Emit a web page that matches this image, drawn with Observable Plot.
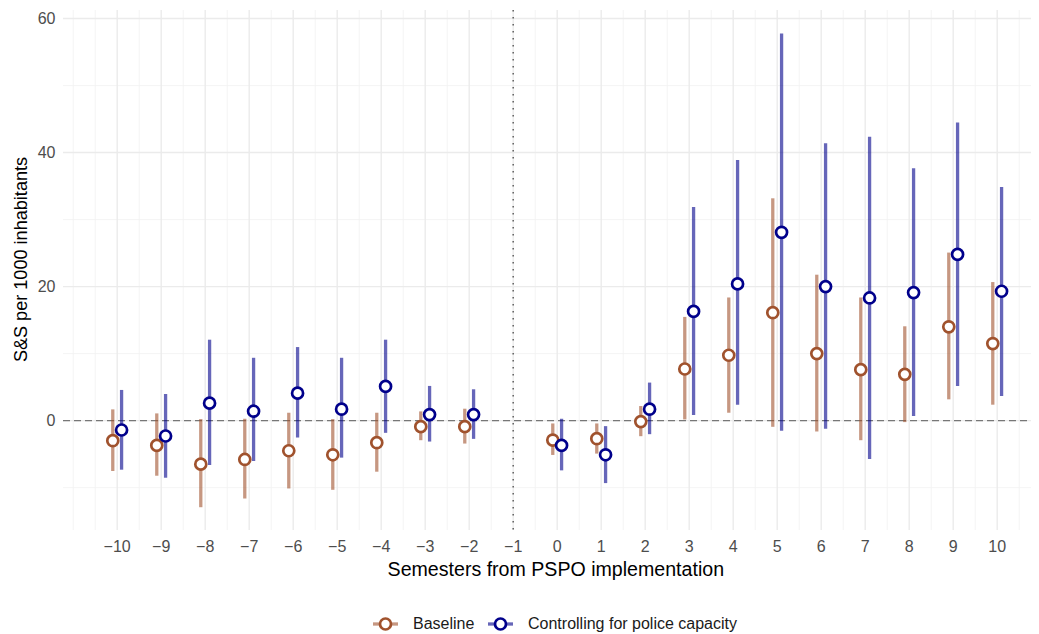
<!DOCTYPE html>
<html><head><meta charset="utf-8">
<script src="https://cdn.jsdelivr.net/npm/d3@7"></script>
<script src="https://cdn.jsdelivr.net/npm/@observablehq/plot@0.6"></script>
<style>
body{margin:0;background:#fff;font-family:"Liberation Sans",Arial,sans-serif;}
#chart svg{display:block;}
#legend{height:34px;position:relative;}
.item{position:absolute;top:14px;display:flex;align-items:center;height:20px;font-size:16px;color:#1a1a1a;}
.item svg{margin-right:15px;}
</style></head><body><div id="chart"></div><div id="legend"></div>
<script>
const seriesNames = ["Baseline", "Controlling for police capacity"];
const seriesColors = ["#A0522D", "#00008B"];
const semesters = [-10,-9,-8,-7,-6,-5,-4,-3,-2,0,1,2,3,4,5,6,7,8,9,10];
const xTicks = [-10,-9,-8,-7,-6,-5,-4,-3,-2,-1,0,1,2,3,4,5,6,7,8,9,10];
const yTicks = [0,20,40,60];
const baseEst = [-3.0,-3.7,-6.5,-5.8,-4.5,-5.1,-3.3,-0.9,-0.9,-2.9,-2.7,-0.15,7.7,9.75,16.1,10.0,7.6,6.9,14.0,11.5];
const baseLo  = [-7.6,-8.3,-13.0,-11.7,-10.2,-10.4,-7.7,-3.0,-3.5,-5.2,-5.0,-2.4,0.1,1.1,-1.0,-1.7,-3.0,-0.3,3.1,2.3];
const baseHi  = [1.6,1.0,0.15,0.2,1.1,0.15,1.1,1.3,1.7,-0.5,-0.5,2.1,15.4,18.3,33.1,21.7,18.3,14.0,25.0,20.6];
const ctrlEst = [-1.4,-2.3,2.6,1.4,4.1,1.7,5.1,0.9,0.9,-3.7,-5.1,1.7,16.3,20.4,28.1,20.0,18.3,19.1,24.8,19.3];
const ctrlLo  = [-7.4,-8.6,-6.7,-6.1,-2.6,-5.6,-1.9,-3.2,-2.8,-7.5,-9.4,-2.1,0.75,2.3,-1.6,-1.3,-5.8,0.6,5.1,3.6];
const ctrlHi  = [4.5,3.9,12.0,9.3,10.9,9.3,12.0,5.1,4.6,0.2,-0.9,5.6,31.8,38.8,57.7,41.3,42.3,37.6,44.4,34.8];
const eventLine = -1;

const base = semesters.map((s,i)=>({series:seriesNames[0], x:s, est:baseEst[i], lo:baseLo[i], hi:baseHi[i]}));
const ctrl = semesters.map((s,i)=>({series:seriesNames[1], x:s, est:ctrlEst[i], lo:ctrlLo[i], hi:ctrlHi[i]}));

const xMajor = xTicks;
const xMinor = d3.range(-11, 10.75, 0.5).filter(v => !xTicks.includes(v));
const yMajor = yTicks;
const yMinor = [-10,10,30,50];

const dodge = 4.4;
const plot = Plot.plot({
  width: 1039, height: 600,
  marginLeft: 63, marginRight: 8, marginTop: 10, marginBottom: 70,
  style: {fontFamily: '"Liberation Sans", Arial, sans-serif', background: "#fff"},
  x: {domain: [-11.22, 10.78]},
  y: {domain: [-16.4, 61.2]},
  color: {domain: seriesNames, range: seriesColors},
  marks: [
    Plot.ruleX(xMinor, {stroke: "#f1f1f1", strokeWidth: 0.8}),
    Plot.ruleY(yMinor, {stroke: "#f1f1f1", strokeWidth: 0.8}),
    Plot.ruleX(xMajor, {stroke: "#ebebeb", strokeWidth: 1.4}),
    Plot.ruleY(yMajor, {stroke: "#ebebeb", strokeWidth: 1.4}),
    Plot.ruleY([0], {stroke: "#777", strokeWidth: 1.2, strokeDasharray: "7,4"}),
    Plot.ruleX([eventLine], {stroke: "#555", strokeWidth: 1.4, strokeDasharray: "1.5,5.5"}),
    Plot.ruleX(base, {x: "x", y1: "lo", y2: "hi", stroke: "series", strokeOpacity: 0.6, strokeWidth: 3.3, dx: -dodge}),
    Plot.ruleX(ctrl, {x: "x", y1: "lo", y2: "hi", stroke: "series", strokeOpacity: 0.6, strokeWidth: 3.3, dx: dodge}),
    Plot.dot(base, {x: "x", y: "est", stroke: "series", fill: "white", r: 5.5, strokeWidth: 2.7, dx: -dodge}),
    Plot.dot(ctrl, {x: "x", y: "est", stroke: "series", fill: "white", r: 5.5, strokeWidth: 2.7, dx: dodge}),
    Plot.axisX({ticks: xTicks, tickSize: 0, tickPadding: 10, fontSize: 16, color: "#4d4d4d",
      label: "Semesters from PSPO implementation", labelAnchor: "center", labelArrow: "none", labelOffset: 44}),
    Plot.axisY({ticks: yTicks, tickSize: 0, tickPadding: 8, fontSize: 16, color: "#4d4d4d",
      label: "S&S per 1000 inhabitants", labelAnchor: "center", labelArrow: "none", labelOffset: 51})
  ]
});
// axis title placement and styling (ggplot-like)
function styleTitle(sel, size, transform) {
  plot.querySelectorAll(sel).forEach(g => {
    g.removeAttribute("transform");
    g.setAttribute("font-size", size); g.setAttribute("fill", "#000");
    g.querySelectorAll("text").forEach(t => {
      t.setAttribute("font-size", size); t.setAttribute("fill", "#000");
      t.setAttribute("text-anchor", "middle");
      t.removeAttribute("dy"); t.removeAttribute("x"); t.removeAttribute("y");
      t.querySelectorAll("tspan").forEach(s => { s.removeAttribute("dy"); s.removeAttribute("y"); s.removeAttribute("x"); });
      t.setAttribute("transform", transform);
    });
  });
}
styleTitle('g[aria-label="x-axis label"]', "19.6", "translate(555.8,575.7)");
styleTitle('g[aria-label="y-axis label"]', "18.1", "translate(26.7,259.5) rotate(-90)");
document.getElementById("chart").appendChild(plot);

const legend = document.getElementById("legend");
const lefts = [373, 488];
seriesNames.forEach((name, i) => {
  const div = document.createElement("div");
  div.className = "item";
  div.style.left = lefts[i] + "px";
  const svg = d3.create("svg").attr("width", 25).attr("height", 20);
  svg.append("line").attr("x1", 0).attr("x2", 25).attr("y1", 10).attr("y2", 10)
    .attr("stroke", seriesColors[i]).attr("stroke-opacity", 0.6).attr("stroke-width", 3.3);
  svg.append("circle").attr("cx", 12.5).attr("cy", 10).attr("r", 5.5)
    .attr("fill", "white").attr("stroke", seriesColors[i]).attr("stroke-width", 2.7);
  div.appendChild(svg.node());
  const span = document.createElement("span");
  span.textContent = name;
  div.appendChild(span);
  legend.appendChild(div);
});
</script></body></html>
